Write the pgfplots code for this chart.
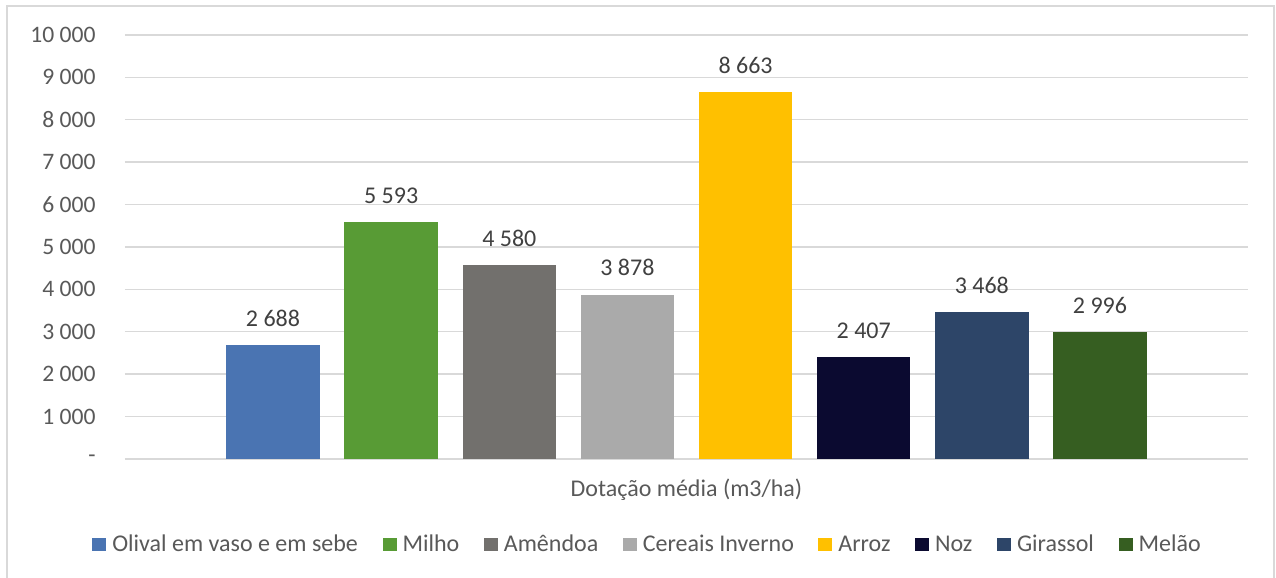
\documentclass[border=0pt]{standalone}
\usepackage{pgfplots}
\pgfplotsset{compat=1.18}
\usepackage{fontspec}
\setmainfont{Carlito}
\definecolor{cOlival}{HTML}{4A74B2}
\definecolor{cMilho}{HTML}{589B35}
\definecolor{cAmendoa}{HTML}{72706D}
\definecolor{cCereais}{HTML}{AAAAAA}
\definecolor{cArroz}{HTML}{FFC000}
\definecolor{cNoz}{HTML}{0B0A30}
\definecolor{cGirassol}{HTML}{2D4568}
\definecolor{cMelao}{HTML}{365E21}
\definecolor{gridc}{HTML}{D9D9D9}
\definecolor{txt}{HTML}{595959}
\definecolor{lbl}{HTML}{404040}
\begin{document}
\begin{tikzpicture}
\path[use as bounding box] (-62.5pt,-59.5pt) rectangle (575.5pt,229.5pt);
\draw[gridc, line width=0.6pt] (-59pt,-62pt) rectangle (574.5pt,226.5pt);
\begin{axis}[
  at={(0,0)}, anchor=south west,
  scale only axis, width=561.5pt, height=212pt,
  xmin=-0.253, xmax=9.253, ymin=0, ymax=10000,
  axis line style={draw=none},
  xtick=\empty,
  scaled y ticks=false,
  ytick={0,1000,...,10000},
  yticklabels={{-\hspace{5.5pt}},1 000,2 000,3 000,4 000,5 000,6 000,7 000,8 000,9 000,10 000},
  yticklabel style={anchor=east, inner sep=0pt, xshift=-14.5pt, font=\fontsize{11.8}{14}\selectfont, text=txt},
  major tick length=0pt,
  ymajorgrids, grid style={gridc, line width=0.7pt},
  bar width=0.79,
  /pgf/number format/assume math mode=true,
  /pgf/number format/1000 sep={\ },
  nodes near coords,
  nodes near coords style={anchor=south, inner sep=0pt, yshift=9pt, font=\fontsize{12}{14}\selectfont, text=lbl},
  xlabel={Dotação média (m3/ha)},
  xlabel style={at={(axis description cs:0.5,0)}, anchor=base, inner sep=0pt, yshift=-19pt, font=\fontsize{12}{14}\selectfont, text=txt},
  legend columns=-1,
  legend style={draw=none, at={(axis description cs:0.4644,0)}, anchor=north, yshift=-37.5pt,
    font=\fontsize{12}{14}\selectfont, text=txt, inner sep=0pt,
    nodes={inner sep=0pt, anchor=base west},
    /tikz/every even column/.append style={column sep=12.3pt}},
  legend image code/.code={\fill[#1, draw=none] (0pt,0pt) rectangle (7pt,6.5pt); \path (10pt,0pt);},
]
\addplot[ybar, bar shift=0pt, fill=cOlival, draw=none] coordinates {(1,2688)};
\addlegendentry{Olival em vaso e em sebe}
\addplot[ybar, bar shift=0pt, fill=cMilho, draw=none] coordinates {(2,5593)};
\addlegendentry{Milho}
\addplot[ybar, bar shift=0pt, fill=cAmendoa, draw=none] coordinates {(3,4580)};
\addlegendentry{Amêndoa}
\addplot[ybar, bar shift=0pt, fill=cCereais, draw=none] coordinates {(4,3878)};
\addlegendentry{Cereais Inverno}
\addplot[ybar, bar shift=0pt, fill=cArroz, draw=none] coordinates {(5,8663)};
\addlegendentry{Arroz}
\addplot[ybar, bar shift=0pt, fill=cNoz, draw=none] coordinates {(6,2407)};
\addlegendentry{Noz}
\addplot[ybar, bar shift=0pt, fill=cGirassol, draw=none] coordinates {(7,3468)};
\addlegendentry{Girassol}
\addplot[ybar, bar shift=0pt, fill=cMelao, draw=none] coordinates {(8,2996)};
\addlegendentry{Melão}
\end{axis}
\end{tikzpicture}
\end{document}
